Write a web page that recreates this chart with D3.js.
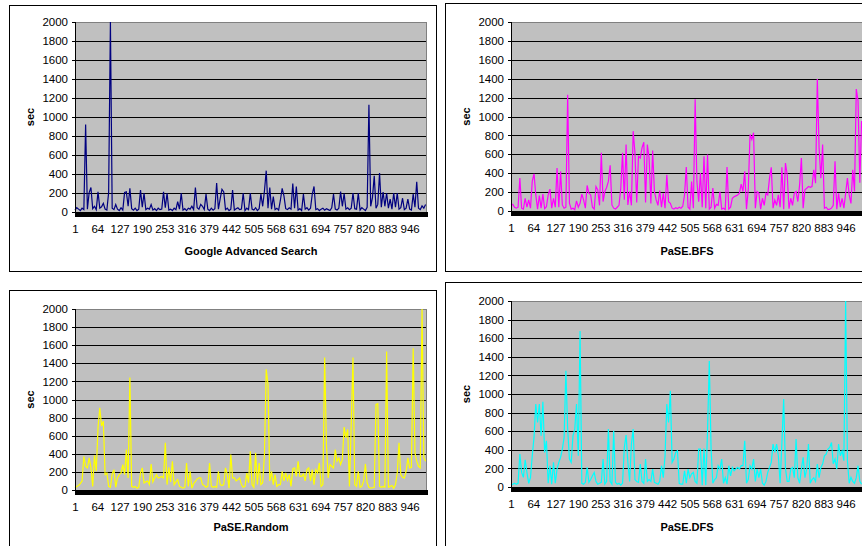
<!DOCTYPE html>
<html>
<head>
<meta charset="utf-8">
<script src="https://cdn.jsdelivr.net/npm/d3@7"></script>
<style>
  body { margin: 0; background: #fff; }
  text { font-family: Arial, "Liberation Sans", sans-serif; }
</style>
</head>
<body>
<div id="app"></div>
<script>
// query number axis: 995 queries, values read every 5th query off the picture
const categoryCount = 995
const sampleStep = 5
const xTickLabels = [1, 64, 127, 190, 253, 316, 379, 442, 505, 568, 631, 694, 757, 820, 883, 946]
const yTicks = [0, 200, 400, 600, 800, 1000, 1200, 1400, 1600, 1800, 2000]

const googleSec = [
  20, 45, 30, 15, 40, 25, 920, 30, 205, 258,
  35, 60, 25, 212, 40, 55, 92, 30, 20, 205,
  2000, 40, 25, 78, 30, 15, 45, 20, 205, 212,
  60, 250, 35, 20, 40, 15, 30, 230, 50, 198,
  25, 40, 30, 78, 20, 35, 15, 40, 25, 30,
  212, 45, 198, 20, 30, 15, 40, 25, 110, 30,
  198, 20, 35, 15, 40, 30, 60, 25, 258, 45,
  30, 80, 60, 25, 188, 30, 15, 40, 20, 35,
  304, 30, 140, 240, 212, 25, 40, 15, 30, 230,
  20, 35, 45, 25, 30, 198, 15, 40, 25, 198,
  30, 20, 45, 15, 35, 188, 60, 223, 435, 40,
  258, 30, 163, 25, 40, 20, 124, 248, 170, 35,
  25, 45, 30, 300, 40, 269, 20, 35, 15, 188,
  30, 45, 20, 40, 188, 269, 25, 35, 15, 30,
  40, 20, 35, 25, 15, 45, 188, 30, 20, 40,
  216, 60, 195, 30, 45, 25, 40, 198, 35, 30,
  198, 20, 45, 30, 15, 50, 1130, 60, 152, 382,
  40, 80, 410, 50, 210, 60, 200, 40, 135, 30,
  198, 50, 198, 30, 45, 145, 25, 40, 135, 30,
  20, 188, 50, 318, 40, 25, 64, 40, 80
]

const bfsSec = [
  60, 70, 40, 30, 40, 348, 30, 20, 135, 40,
  117, 30, 313, 394, 170, 20, 163, 30, 178, 25,
  46, 170, 231, 30, 135, 40, 455, 40, 419, 64,
  30, 40, 1229, 82, 20, 30, 15, 107, 40, 82,
  178, 117, 30, 270, 188, 170, 40, 20, 259, 224,
  60, 615, 100, 206, 249, 313, 483, 64, 30, 20,
  40, 60, 242, 615, 120, 703, 64, 206, 60, 845,
  615, 90, 579, 561, 668, 728, 90, 703, 561, 80,
  639, 206, 117, 60, 217, 40, 188, 30, 384, 99,
  82, 30, 20, 35, 25, 40, 30, 50, 170, 465,
  40, 20, 313, 30, 1183, 313, 99, 401, 40, 579,
  30, 597, 20, 40, 242, 30, 70, 60, 206, 20,
  30, 15, 465, 20, 40, 135, 150, 160, 170, 188,
  284, 206, 419, 20, 224, 810, 757, 828, 30, 206,
  188, 20, 135, 60, 188, 170, 348, 462, 30, 117,
  60, 170, 40, 462, 20, 508, 384, 25, 135, 60,
  188, 206, 100, 277, 561, 30, 224, 240, 259, 250,
  259, 437, 295, 1396, 668, 348, 703, 30, 40, 15,
  20, 30, 60, 526, 20, 188, 40, 135, 30, 188,
  348, 170, 80, 437, 206, 1290, 1165, 300, 952
]

const randomSec = [
  20, 40, 50, 70, 100, 373, 262, 244, 355, 251,
  40, 384, 207, 688, 909, 706, 761, 170, 188, 40,
  30, 177, 225, 30, 133, 170, 188, 281, 170, 447,
  133, 1242, 40, 30, 40, 20, 30, 188, 244, 78,
  90, 100, 60, 288, 90, 133, 170, 133, 140, 150,
  133, 521, 60, 251, 90, 318, 60, 90, 115, 40,
  30, 20, 30, 299, 40, 207, 20, 70, 96, 122,
  133, 133, 60, 50, 30, 40, 299, 40, 30, 40,
  30, 207, 60, 50, 60, 244, 170, 20, 392, 133,
  133, 100, 115, 133, 60, 30, 40, 188, 80, 429,
  60, 30, 410, 60, 299, 60, 80, 392, 1334, 1168,
  100, 207, 60, 170, 40, 60, 60, 207, 100, 188,
  110, 170, 40, 233, 244, 150, 318, 151, 151, 177,
  100, 225, 244, 100, 225, 60, 225, 188, 299, 40,
  60, 1464, 503, 133, 281, 262, 244, 447, 318, 355,
  281, 336, 695, 577, 669, 40, 717, 1464, 60, 40,
  207, 30, 40, 100, 288, 80, 30, 20, 25, 30,
  946, 954, 40, 30, 40, 30, 1530, 30, 40, 50,
  20, 60, 188, 521, 170, 140, 130, 207, 355, 244,
  250, 1567, 410, 318, 262, 244, 2000, 355, 318
]

const dfsSec = [
  20, 30, 40, 30, 40, 354, 157, 104, 293, 157,
  40, 100, 336, 533, 891, 694, 891, 551, 916, 372,
  497, 40, 229, 30, 265, 40, 193, 265, 318, 408,
  533, 1249, 623, 301, 265, 551, 623, 891, 336, 1678,
  40, 30, 50, 211, 50, 80, 122, 157, 60, 30,
  40, 50, 301, 30, 60, 623, 60, 30, 605, 50,
  30, 40, 20, 40, 426, 558, 265, 60, 462, 623,
  80, 60, 50, 247, 60, 40, 301, 60, 80, 60,
  193, 50, 40, 30, 60, 229, 100, 336, 891, 694,
  1034, 265, 301, 372, 390, 40, 30, 30, 175, 40,
  193, 100, 140, 157, 60, 40, 408, 408, 20, 415,
  20, 605, 1356, 408, 40, 80, 100, 229, 193, 301,
  40, 100, 30, 229, 120, 211, 175, 193, 211, 193,
  229, 229, 497, 40, 80, 229, 193, 301, 60, 193,
  100, 193, 40, 20, 60, 157, 211, 265, 462, 372,
  462, 336, 40, 479, 945, 200, 60, 60, 193, 211,
  100, 515, 100, 40, 193, 318, 100, 193, 462, 40,
  80, 100, 60, 247, 100, 211, 247, 336, 354, 408,
  426, 479, 250, 301, 193, 462, 336, 390, 283, 2000,
  283, 40, 104, 60, 40, 100, 229, 60, 30
]

const categories = d3.range(1, categoryCount + 1)
const sampleCats = categories.filter((c, i) => i % sampleStep === 0)

const panels = [
  { title: "Google Advanced Search", values: googleSec, color: "#000080",
    frame: { x: 9, y: 5, w: 427, h: 266 }, plot: { x: 75, y: 22, w: 352, h: 190 }, titleY: 251 },
  { title: "PaSE.BFS", values: bfsSec, color: "#ff00ff",
    frame: { x: 445, y: 3, w: 450, h: 268 }, plot: { x: 511, y: 22, w: 352, h: 189 }, titleY: 251 },
  { title: "PaSE.Random", values: randomSec, color: "#ffff00",
    frame: { x: 9, y: 290, w: 427, h: 300 }, plot: { x: 75, y: 309, w: 352, h: 181 }, titleY: 527 },
  { title: "PaSE.DFS", values: dfsSec, color: "#00ffff",
    frame: { x: 445, y: 282, w: 450, h: 300 }, plot: { x: 511, y: 301, w: 352, h: 186 }, titleY: 527 },
]

const svg = d3.select('#app')
  .append('svg')
    .attr('width', 862)
    .attr('height', 546)

panels.forEach(drawPanel)

function drawPanel(p) {
  const g = svg.append('g')
  const zeroY = p.plot.y + p.plot.h

  g.append('rect')
      .attr('x', p.frame.x + 0.5)
      .attr('y', p.frame.y + 0.5)
      .attr('width', p.frame.w)
      .attr('height', p.frame.h)
      .attr('fill', '#fff')
      .attr('stroke', '#000')

  const xScale = d3.scaleLinear()
    .domain([1, categoryCount])
    .range([p.plot.x, p.plot.x + p.plot.w])

  const yScale = d3.scaleLinear()
    .domain([0, 2000])
    .range([zeroY, p.plot.y])

  // plot area
  g.append('rect')
      .attr('x', p.plot.x)
      .attr('y', p.plot.y)
      .attr('width', p.plot.w)
      .attr('height', p.plot.h)
      .attr('fill', '#c0c0c0')

  g.append('g')
    .selectAll('line')
    .data(yTicks.slice(1, -1))
    .join('line')
      .attr('x1', p.plot.x)
      .attr('x2', p.plot.x + p.plot.w)
      .attr('y1', d => Math.round(yScale(d)) + 0.5)
      .attr('y2', d => Math.round(yScale(d)) + 0.5)
      .attr('stroke', '#000')

  g.append('rect')
      .attr('x', p.plot.x + 0.5)
      .attr('y', p.plot.y + 0.5)
      .attr('width', p.plot.w - 1)
      .attr('height', p.plot.h)
      .attr('fill', 'none')
      .attr('stroke', '#808080')

  const line = d3.line()
    .x((d, i) => xScale(sampleCats[i]))
    .y(d => yScale(d))

  g.append('path')
      .datum(p.values)
      .attr('d', line)
      .attr('fill', 'none')
      .attr('stroke', p.color)
      .attr('stroke-width', 1.2)

  // one tick per query -> solid black band
  g.append('g')
      .attr('transform', `translate(0,${zeroY})`)
      .attr('shape-rendering', 'crispEdges')
    .call(d3.axisBottom(xScale).tickValues(categories).tickSize(5).tickFormat(''))
    .call(a => a.select('.domain').attr('stroke', '#000'))

  g.append('g')
      .attr('transform', `translate(0,${zeroY})`)
    .call(d3.axisBottom(xScale).tickValues(xTickLabels).tickSize(0).tickPadding(13).tickFormat(d3.format('d')))
    .call(a => a.select('.domain').remove())
    .call(a => a.selectAll('text')
      .attr('font-size', '11.5px')
      .attr('font-family', 'Arial, "Liberation Sans", sans-serif')
      .attr('fill', '#000'))

  g.append('g')
      .attr('transform', `translate(${p.plot.x},0)`)
      .attr('shape-rendering', 'crispEdges')
    .call(d3.axisLeft(yScale).tickValues(yTicks).tickSize(3).tickPadding(4).tickFormat(d3.format('d')))
    .call(a => a.select('.domain').attr('stroke', '#000'))
    .call(a => a.selectAll('text')
      .attr('font-size', '11.5px')
      .attr('font-family', 'Arial, "Liberation Sans", sans-serif')
      .attr('fill', '#000'))

  g.append('text')
      .attr('x', p.plot.x + p.plot.w / 2)
      .attr('y', p.titleY + 4)
      .attr('text-anchor', 'middle')
      .style('font-size', '11px')
      .style('font-weight', 'bold')
      .text(p.title)

  g.append('text')
      .attr('transform', `translate(${p.plot.x - 45},${p.plot.y + p.plot.h / 2}) rotate(-90)`)
      .attr('text-anchor', 'middle')
      .attr('dy', '0.35em')
      .style('font-size', '11px')
      .style('font-weight', 'bold')
      .text('sec')
}
</script>
</body>
</html>
